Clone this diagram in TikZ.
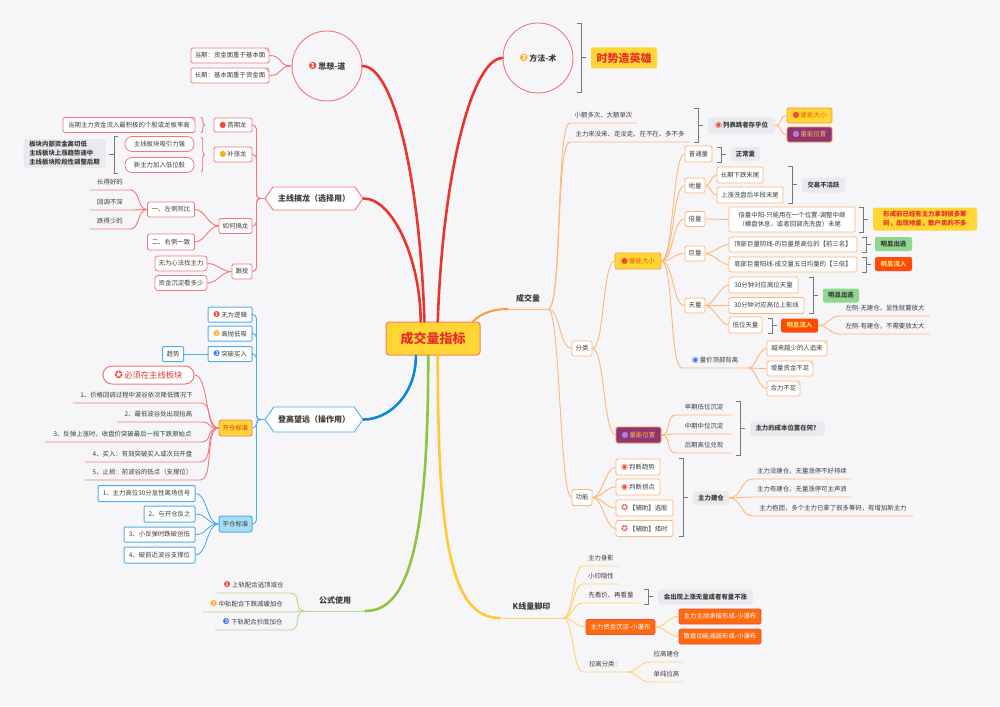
\documentclass[tikz,border=0pt]{standalone}
\usepackage{fontspec}
\setmainfont{Noto Sans CJK SC}
\newfontfamily\djv{DejaVu Sans}
\usetikzlibrary{shapes.symbols,decorations.pathreplacing,calc}
\definecolor{bg}{HTML}{F6F6F9}
\definecolor{txt}{HTML}{3C3C3C}
\definecolor{mred}{HTML}{E8352E}
\definecolor{lred}{HTML}{F07878}
\definecolor{mblue}{HTML}{1088D6}
\definecolor{lblue}{HTML}{4FAEE8}
\definecolor{mgreen}{HTML}{8CC540}
\definecolor{lgreen}{HTML}{B3D98A}
\definecolor{myel}{HTML}{FFC933}
\definecolor{lyel}{HTML}{FFD466}
\definecolor{morange}{HTML}{FF9A3C}
\definecolor{lorange}{HTML}{FFB778}
\definecolor{gbox}{HTML}{EAEAEE}
\definecolor{brk}{HTML}{777777}
\definecolor{yfill}{HTML}{FFD633}
\definecolor{pfill}{HTML}{8E3572}
\definecolor{ofill}{HTML}{FF4A0A}
\definecolor{gfill}{HTML}{8ED88E}
\definecolor{bfill}{HTML}{A6DDF5}
\definecolor{ob2}{HTML}{FF6A10}
\definecolor{obd}{HTML}{F0502A}
\definecolor{redtxt}{HTML}{E5302A}
\definecolor{otxt}{HTML}{F25A0A}
\definecolor{ptxt}{HTML}{FFB84D}
\definecolor{oytxt}{HTML}{FFE070}
\definecolor{ctrb}{HTML}{F08060}
\definecolor{icred}{HTML}{F24A3D}
\definecolor{icor}{HTML}{FFAA22}
\definecolor{icblue}{HTML}{3D7BF0}
\definecolor{icpur}{HTML}{B47BDB}
\newcommand\ic[2]{{\djv\fontsize{8}{8}\selectfont\color{#1}#2}}
\newcommand\icb[2]{{\djv\fontsize{10}{10}\selectfont\color{#1}#2}}
\newcommand\BrR[3]{\draw[brkl] ({#1-4},#2) -- (#1,#2) -- (#1,#3) -- ({#1-4},#3); \draw[brkl] (#1,{(#2+#3)/2}) -- ({#1+5},{(#2+#3)/2});}
\newcommand\BrL[3]{\draw[brkl] ({#1+4},#2) -- (#1,#2) -- (#1,#3) -- ({#1+4},#3); \draw[brkl] (#1,{(#2+#3)/2}) -- ({#1-5},{(#2+#3)/2});}
\tikzset{
 T/.style={font=\fontsize{6.4}{8}\selectfont, text=txt},
 TB/.style={font=\fontsize{6.4}{8}\selectfont\bfseries, text=txt},
 TH/.style={font=\fontsize{8}{10}\selectfont\bfseries, text=txt},
 bxr/.style={T, draw=lred, fill=white, line width=0.8pt, rounded corners=1.5pt, inner sep=0pt},
 bxo/.style={T, draw=lorange, fill=white, line width=0.8pt, rounded corners=1.5pt, inner sep=0pt},
 bxb/.style={T, draw=lblue, fill=white, line width=1pt, rounded corners=1pt, inner sep=0pt},
 gb/.style={TB, fill=gbox, rounded corners=3pt, inner sep=0pt},
 ut/.style={T, inner sep=0pt, anchor=south, minimum height=15},
 ylw/.style={font=\fontsize{6.4}{9}\selectfont\bfseries, text=redtxt, fill=yfill, rounded corners=2.5pt, inner sep=0pt},
 circ/.style={circle, draw=lred, line width=0.9pt, inner sep=0pt, minimum size=70, TH},
 hexr/.style={shape=signal, signal to=east and west, signal pointer angle=110, draw=lred, line width=0.9pt, fill=white, inner sep=0pt, TH},
 hexb/.style={shape=signal, signal to=east and west, signal pointer angle=110, draw=lblue, line width=0.9pt, fill=white, inner sep=0pt, TH},
 ctr/.style={fill=yfill, draw=ctrb, line width=1pt, rounded corners=3pt, font=\fontsize{13}{15}\selectfont\bfseries, text=redtxt, inner sep=0pt},
 nlA/.style={bxo, fill=yfill, draw=morange, text=otxt},
 nlB/.style={bxo, fill=pfill, draw=morange, text=ptxt},
 grn/.style={TB, fill=gfill, rounded corners=2pt, inner sep=0pt},
 orr/.style={TB, fill=ofill, text=oytxt, rounded corners=2pt, inner sep=0pt},
 obx/.style={T, fill=ob2, draw=obd, line width=0.8pt, text=white, rounded corners=2pt, inner sep=0pt},
 fold/.style={path picture={\draw[#1,line width=0.6pt] ([xshift=-4pt]path picture bounding box.north east) -- ([yshift=-4pt]path picture bounding box.north east);}},
 fold/.default=lred,
 lr/.style={draw=lred, line width=0.9pt},
 lo/.style={draw=lorange, line width=0.9pt},
 lb/.style={draw=lblue, line width=0.9pt},
 lg/.style={draw=lgreen, line width=0.9pt},
 ly/.style={draw=lyel, line width=0.9pt},
 mR/.style={draw=mred, line width=2.6pt, line cap=round},
 mB/.style={draw=mblue, line width=2.6pt, line cap=round},
 mG/.style={draw=mgreen, line width=2.6pt, line cap=round},
 mY/.style={draw=myel, line width=2.6pt, line cap=round},
 mO/.style={draw=morange, line width=2pt, line cap=round},
 brkl/.style={draw=brk, line width=0.9pt},
 hc/.style={to path={.. controls +(#1,0) and +({-1*(#1)},0) .. (\tikztotarget) \tikztonodes}},
}
\begin{document}
\begin{tikzpicture}[x=1pt,y=-1pt]
\fill[bg] (0,0) rectangle (1000,706);
\useasboundingbox (0,0) rectangle (1000,706);

% ---------- centre ----------
\node[ctr, minimum width=94, minimum height=33] (C) at (433,338.5) {成交量指标};
\coordinate (Ct1) at ($(C.north west)!0.41!(C.north east)$);
\coordinate (Ct2) at ($(C.north west)!0.37!(C.north east)$);
\coordinate (Ct3) at ($(C.north west)!0.55!(C.north east)$);
\coordinate (Ct4) at ($(C.north west)!0.92!(C.north east)$);
\coordinate (Cb1) at ($(C.south west)!0.32!(C.south east)$);
\coordinate (Cb2) at ($(C.south west)!0.45!(C.south east)$);
\coordinate (Cb3) at ($(C.south west)!0.55!(C.south east)$);

% ---------- 思想-道 ----------
\node[circ] (S) at (327,66) {\icb{icred}{❶}\,思想-道};
\node[bxr, fold, minimum width=78, minimum height=15] (Sa) at (230,55.5) {当期：资金面重于基本面};
\node[bxr, fold, minimum width=78, minimum height=15] (Sb) at (230,75.5) {长期：基本面重于资金面};
\draw[lr] (S.west) to[hc=-14] (Sa.east);
\draw[lr] (S.west) to[hc=-14] (Sb.east);
\draw[mR] (Ct1) .. controls +(-5,-150) and +(30,0) .. (S.east);

% ---------- 主线搞龙 ----------
\node[hexr, minimum width=98, minimum height=23] (Z) at (314,198.5) {主线搞龙（选择用）};
\draw[mR] (Ct2) .. controls +(0,-60) and +(30,0) .. (Z.east);
\node[bxr, minimum width=38, minimum height=14] (Z1) at (233,125) {\ic{icred}{●}\,首期龙};
\node[bxr, minimum width=38, minimum height=15] (Z2) at (233,154.5) {\ic{icor}{●}\,补涨龙};
\node[bxr, minimum width=33, minimum height=15] (Z3) at (235.5,226) {如何搞龙};
\node[bxr, minimum width=20, minimum height=15] (Z4) at (242,271.5) {跟投};
\foreach \n in {Z1,Z2,Z3,Z4} \draw[lr, rounded corners=4pt] (Z.west) -- ++(-8,0) |- (\n.east);

\node[bxr, fold, minimum width=132, minimum height=15] (Z1a) at (129,125) {当期主力资金流入最积极的个股或龙板率高};
\draw[lr, decorate, decoration={brace,amplitude=3.5pt}] (201,117) -- (201,133);

\node[bxr, rounded corners=7pt, minimum width=69, minimum height=15] (Z2a) at (159.5,144) {主线板块吸引力强};
\node[bxr, rounded corners=7pt, minimum width=69, minimum height=15] (Z2b) at (159.5,165) {新主力加入低位股};
\draw[lr, decorate, decoration={brace,amplitude=3.5pt}] (201,137) -- (201,172);
\BrL{114}{136}{173}
\node[gb, align=left, minimum width=82, minimum height=29, font=\fontsize{6.4}{9}\selectfont\bfseries] (Z2s) at (64.5,153.5) {板块内部资金高切低\\主线板块上涨趋势途中\\主线板块阶段性调整后期};

\node[bxr, minimum width=47, minimum height=15] (Z3a) at (171,209.5) {一、左侧同比};
\node[bxr, minimum width=47, minimum height=16] (Z3b) at (171,242) {二、右侧一致};
\draw[lr] (Z3.west) to[hc=-10] (Z3a.east);
\draw[lr] (Z3.west) to[hc=-10] (Z3b.east);
\node[ut, minimum width=40] (L1) at (110,190) {长得好的};
\node[ut, minimum width=40] (L2) at (110,210) {回调不深};
\node[ut, minimum width=40] (L3) at (110,229) {跌得少的};
\foreach \n in {L1,L2,L3} \draw[lr] (Z3a.west) to[hc=-10] (\n.south east) -- (\n.south west);

\node[bxr, rounded corners=3pt, minimum width=52, minimum height=15] (Z4a) at (181,263.5) {无为心法找主力};
\node[bxr, rounded corners=3pt, minimum width=52, minimum height=15] (Z4b) at (181,283) {资金沉淀看多少};
\draw[lr] (Z4.west) to[hc=-10] (Z4a.east);
\draw[lr] (Z4.west) to[hc=-10] (Z4b.east);

% ---------- 登高望远 ----------
\node[hexb, minimum width=98, minimum height=25] (D) at (314,419.5) {登高望远（操作用）};
\draw[mB] (Cb1) .. controls +(0,40) and +(25,0) .. (D.east);
\node[bxb, minimum width=44, minimum height=15] (D1) at (230,314.5) {\ic{icred}{❶}\,无为逻辑};
\node[bxb, minimum width=44, minimum height=15] (D2) at (230,333.5) {\ic{icor}{❷}\,高抛低吸};
\node[bxb, minimum width=44, minimum height=15] (D3) at (230,354) {\ic{icblue}{❸}\,突破买入};
\node[bxr, fill=yfill, text=redtxt, minimum width=33, minimum height=16] (D4) at (235.5,428) {开仓标准};
\node[bxb, fill=bfill, minimum width=33, minimum height=16, rounded corners=2pt] (D5) at (235.5,524) {平仓标准};
\foreach \n in {D1,D2,D3,D4,D5} \draw[lb, rounded corners=4pt] (D.west) -- ++(-8,0) |- (\n.east);
\node[bxb, minimum width=21, minimum height=15] (D3a) at (173,354) {趋势};
\draw[lb] (D3.west) -- (D3a.east);

\node[bxr, rounded corners=9pt, line width=1pt, minimum width=91, minimum height=18, font=\fontsize{8.3}{10}\selectfont, text=redtxt] (K0) at (148.5,375) {\icb{icred}{✪}\,必须在主线板块};
\draw[lr] (D4.west) to[hc=-14] (K0.east);
\node[ut, minimum width=127] (K1) at (136.5,403) {1、价格回调过程中波谷依次降低情况下};
\node[ut, minimum width=83] (K2) at (158.5,422) {2、最低波谷处出现抬高};
\node[ut, minimum width=155] (K3) at (122.5,442) {3、反弹上涨时，收盘价突破最后一段下跌原始点};
\node[ut, minimum width=115] (K4) at (142.5,462) {4、买入：有效突破买入或次日开盘};
\node[ut, minimum width=115] (K5) at (142.5,480) {5、止损：前波谷的低点（支撑位）};
\foreach \n in {K1,K2,K3,K4,K5} \draw[lr] (D4.west) to[hc=-14] (\n.south east) -- (\n.south west);

\node[bxb, minimum width=97, minimum height=16] (P1) at (146.5,493.5) {1、主力高位30分显性离场信号};
\node[bxb, minimum width=51, minimum height=16] (P2) at (169.5,514) {2、与开仓反之};
\node[bxb, minimum width=71, minimum height=15] (P3) at (159.5,534.5) {3、小反弹时跌破创低};
\node[bxb, minimum width=71, minimum height=16] (P4) at (159.5,555) {4、破前近波谷支撑位};
\foreach \n in {P1,P2,P3,P4} \draw[lb] (D5.west) to[hc=-12] (\n.east);

% ---------- 公式使用 ----------
\node[TH, anchor=south, minimum width=60, minimum height=20, inner sep=0pt] (G) at (335,611) {公式使用};
\draw[mG] (Cb2) .. controls +(0,200) and +(40,0) .. (G.south east);
\draw[lg] (G.south east) -- (G.south west);
\node[ut, minimum width=73] (G1) at (253.5,593) {\ic{icred}{❶}\ 上轨配合逃顶减仓};
\node[ut, minimum width=87] (G2) at (246.5,612) {\ic{icor}{❷}\ 中轨配合下跌减缓加仓};
\node[ut, minimum width=75] (G3) at (252.5,630) {\ic{icblue}{❸}\ 下轨配合抄底加仓};
\foreach \n in {G1,G2,G3} \draw[lg] (G.south west) to[hc=-12] (\n.south east) -- (\n.south west);

% ---------- 方法-术 ----------
\node[circ] (F) at (538,58) {\icb{icor}{❷}\,方法-术};
\draw[mR] (Ct3) .. controls +(5,-150) and +(-30,0) .. (F.west);
\BrR{581}{23}{92}
\node[ylw, font=\fontsize{11}{13}\selectfont\bfseries, minimum width=66, minimum height=21] (F1) at (624,58) {时势造英雄};

% ---------- 成交量 ----------
\node[TH, anchor=south, minimum width=40, minimum height=20, inner sep=0pt] (V) at (528,309) {成交量};
\draw[mO] (Ct4) .. controls +(8,-8) and +(-15,0) .. (V.south west);
\draw[lo] (V.south west) -- (V.south east);
\node[ut, minimum width=67] (V1) at (603.5,123) {小额多次、大额单次};
\node[ut, minimum width=120] (V2) at (630,142) {主力来没来、走没走、在不在、多不多};
\draw[lo] (V.south east) to[hc=14] (V1.south west) -- (V1.south east);
\draw[lo] (V.south east) to[hc=14] (V2.south west) -- (V2.south east);
\BrR{698}{108}{142}
\node[gb, minimum width=67, minimum height=16] (V3) at (741.5,125.5) {\ic{icred}{◉}\,列表跳者存乎位};
\node[nlA, minimum width=45, minimum height=15] (V3a) at (809.5,115.5) {\ic{icred}{●}\,量能大小};
\node[nlB, minimum width=45, minimum height=15] (V3b) at (809.5,134.5) {\ic{icpur}{●}\,量能位置};
\draw[lo] (V3.east) to[hc=8] (V3a.west);
\draw[lo] (V3.east) to[hc=8] (V3b.west);

\node[bxo, minimum width=20, minimum height=15] (FL) at (582,348.5) {分类};
\node[bxo, minimum width=20, minimum height=16] (GN) at (582,497.5) {功能};
\draw[lo] (V.south east) to[hc=12] (FL.west);
\draw[lo] (V.south east) to[hc=12] (GN.west);

\node[nlA, minimum width=46, minimum height=16] (NA) at (638,261) {\ic{icred}{●}\,量能大小};
\node[nlB, minimum width=45, minimum height=16] (NB) at (638.5,435) {\ic{icpur}{●}\,量能位置};
\draw[lo] (FL.east) to[hc=12] (NA.west);
\draw[lo] (FL.east) to[hc=12] (NB.west);

\node[bxo, minimum width=27, minimum height=16] (N1) at (698.5,154) {普通量};
\node[bxo, minimum width=20, minimum height=15] (N2) at (695,185.5) {地量};
\node[bxo, minimum width=20, minimum height=15] (N3) at (695,219) {倍量};
\node[bxo, minimum width=20, minimum height=15] (N4) at (695,253.5) {巨量};
\node[bxo, minimum width=20, minimum height=15] (N5) at (695,305.5) {天量};
\node[ut, minimum width=66] (N6) at (715,368) {\ic{icblue}{◉}\,量价顶部背离};
\foreach \n in {N1,N2,N3,N4,N5} \draw[lo] (NA.east) to[hc=12] (\n.west);
\draw[lo] (NA.east) to[hc=12] (N6.south west) -- (N6.south east);

\BrR{721}{147}{162}
\node[gb, minimum width=29, minimum height=14] (N1s) at (745.5,154) {正常量};

\node[bxo, minimum width=46, minimum height=16] (N2a) at (740,175) {长期下跌末尾};
\node[bxo, minimum width=66, minimum height=16] (N2b) at (750,195) {上涨洗盘后半段末尾};
\draw[lo] (N2.east) to[hc=6] (N2a.west);
\draw[lo] (N2.east) to[hc=6] (N2b.west);
\BrR{792}{166}{203}
\node[gb, minimum width=43, minimum height=15] (N2s) at (823.5,185) {交易不活跃};

\node[bxo, align=left, minimum width=126, minimum height=25, font=\fontsize{6.4}{9}\selectfont] (N3a) at (792,219.5) {倍量中阳-只能用在一个位置-调整中继\\（横盘休息，或者回调洗洗盘）末尾};
\draw[lo] (N3.east) -- (N3a.west);
\BrR{863}{207}{232}
\node[ylw, align=left, minimum width=104, minimum height=23] (N3s) at (925,219) {形成前已经有主力拿到很多筹\\码，出现地量，散户卖的不多};

\node[bxo, minimum width=128, minimum height=15] (N4a) at (793,244.5) {顶部巨量阴线-的巨量是高位的【前三名】};
\node[bxo, minimum width=128, minimum height=15] (N4b) at (793,264.5) {底部巨量阳线-成交量五日均量的【三倍】};
\draw[lo] (N4.east) to[hc=8] (N4a.west);
\draw[lo] (N4.east) to[hc=8] (N4b.west);
\BrR{866}{237}{252}
\BrR{866}{257}{272}
\node[grn, minimum width=37, minimum height=14] (N4s1) at (893.5,244) {明显出逃};
\node[orr, minimum width=37, minimum height=14] (N4s2) at (893.5,264) {明显流入};

\node[bxo, minimum width=69, minimum height=16] (N5a) at (763.5,285) {30分钟对应高位天量};
\node[bxo, minimum width=75, minimum height=16] (N5b) at (766.5,305.5) {30分钟对应高位上影线};
\node[bxo, minimum width=33, minimum height=16] (N5c) at (745.5,325) {低位天量};
\foreach \n in {N5a,N5b,N5c} \draw[lo] (N5.east) to[hc=8] (\n.west);
\BrR{813}{277}{313}
\node[grn, minimum width=36, minimum height=14] (N5s1) at (841,295.5) {明显出逃};
\BrR{772}{318}{333}
\node[orr, minimum width=37, minimum height=14] (N5s2) at (799.5,325.5) {明显流入};
\node[ut, minimum width=90] (N5t1) at (885,316) {左侧-无建仓，显性就要放大};
\node[ut, minimum width=90] (N5t2) at (885,334) {左侧-有建仓，不需要放太大};
\draw[lo] (N5s2.east) to[hc=10] (N5t1.south west) -- (N5t1.south east);
\draw[lo] (N5s2.east) to[hc=10] (N5t2.south west) -- (N5t2.south east);

\node[bxo, fold=lorange, minimum width=60, minimum height=15] (N6a) at (797,348.5) {越来越少的人追来};
\node[bxo, fold=lorange, minimum width=46, minimum height=15] (N6b) at (790,368.5) {增量资金不足};
\node[bxo, fold=lorange, minimum width=33, minimum height=15] (N6c) at (783.5,388.5) {合力不足};
\foreach \n in {N6a,N6b,N6c} \draw[lo] (N6.south east) to[hc=8] (\n.west);

\node[ut, minimum width=56] (B1) at (704,415) {早期低位沉淀};
\node[ut, minimum width=56] (B2) at (704,434) {中期中位沉淀};
\node[ut, minimum width=56] (B3) at (704,453) {后期高位兑现};
\foreach \n in {B1,B2,B3} \draw[lo] (NB.east) to[hc=10] (\n.south west) -- (\n.south east);
\BrR{740}{401}{455}
\node[gb, minimum width=75, minimum height=14] (Bs) at (787.5,428.5) {主力的成本位置在何？};

\node[bxo, minimum width=44, minimum height=16] (J1) at (638,467) {\ic{icred}{◉}\,判断趋势};
\node[bxo, minimum width=44, minimum height=16] (J2) at (638,487) {\ic{icred}{◉}\,判断拐点};
\node[bxo, minimum width=57, minimum height=16] (J3) at (644.5,508) {\ic{icred}{✪}\,【辅助】选股};
\node[bxo, minimum width=57, minimum height=16] (J4) at (644.5,528.5) {\ic{icred}{✪}\,【辅助】择时};
\foreach \n in {J1,J2,J3,J4} \draw[lo] (GN.east) to[hc=10] (\n.west);
\BrR{683}{458}{536}
\node[gb, minimum width=36, minimum height=14] (Js) at (711,498) {主力建仓};
\node[ut, minimum width=98] (Jt1) at (802,479) {主力没建仓，无量涨停不好持续};
\node[ut, minimum width=98] (Jt2) at (802,497) {主力有建仓，无量涨停可主声浪};
\node[ut, minimum width=160] (Jt3) at (833,516) {主力抱团，多个主力已拿了很多筹码，有增加新主力};
\foreach \n in {Jt1,Jt2,Jt3} \draw[lo] (Js.east) to[hc=12] (\n.south west) -- (\n.south east);

% ---------- K线量脚印 ----------
\node[TH, anchor=south, minimum width=63, minimum height=22, inner sep=0pt] (K) at (531.5,618) {K线量脚印};
\draw[mY] (Cb3) .. controls +(0,180) and +(-50,0) .. (K.south west);
\draw[ly] (K.south west) -- (K.south east);
\node[ut, minimum width=36] (KA) at (601,566) {主力身影};
\node[ut, minimum width=36] (KB) at (601,584) {小印隐性};
\node[ut, minimum width=56] (KC) at (611,603) {先看价、再看量};
\node[obx, minimum width=69, minimum height=15] (KD) at (620.5,627) {主力资金沉淀-小瀑布};
\node[ut, minimum width=44] (KE) at (605,672) {拉高分类：};
\foreach \n in {KA,KB,KC,KE} \draw[ly] (K.south east) to[hc=10] (\n.south west) -- (\n.south east);
\draw[ly] (K.south east) to[hc=10] (KD.west);
\BrR{648}{589}{604}
\node[gb, minimum width=95, minimum height=15] (KCs) at (705.5,597) {会出现上涨无量或者有量不涨};
\node[obx, minimum width=82, minimum height=15] (KDa) at (720,616.5) {主力主动承接形成-小瀑布};
\node[obx, minimum width=82, minimum height=15] (KDb) at (720,636.5) {散盘动能减弱形成-小瀑布};
\draw[ly] (KD.east) to[hc=10] (KDa.west);
\draw[ly] (KD.east) to[hc=10] (KDb.west);
\node[ut, minimum width=33] (KEa) at (666.5,662) {拉高建仓};
\node[ut, minimum width=33] (KEb) at (666.5,682) {单纯拉高};
\draw[ly] (KE.south east) to[hc=10] (KEa.south west) -- (KEa.south east);
\draw[ly] (KE.south east) to[hc=10] (KEb.south west) -- (KEb.south east);
\end{tikzpicture}
\end{document}
